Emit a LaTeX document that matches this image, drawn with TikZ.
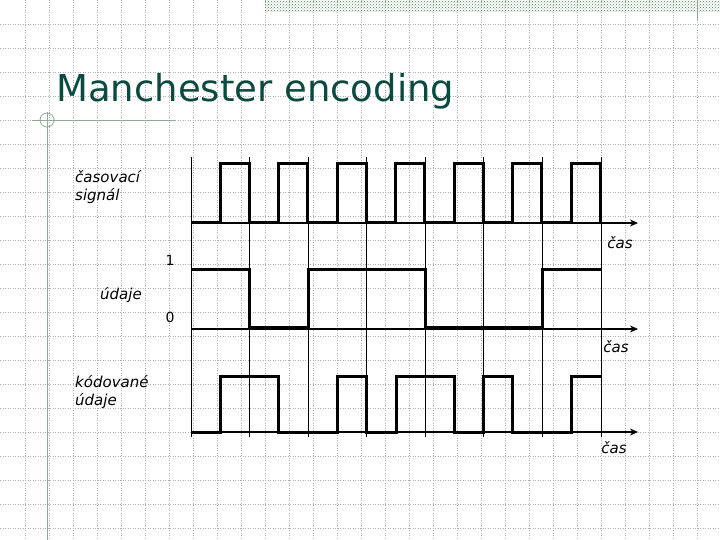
\documentclass[tikz,border=0pt]{standalone}
\usepackage{fontspec}
\setmainfont{DejaVu Sans}
\usetikzlibrary{arrows.meta,patterns}
\definecolor{titlec}{HTML}{0B4A40}
\definecolor{deco}{HTML}{8FA89A}
\definecolor{gridc}{HTML}{B0B0B0}
\tikzset{sig/.style={line width=3pt,line join=miter},
  thin/.style={line width=0.8pt},
  axis/.style={line width=1.3pt,-{Stealth[length=8pt,width=7pt]}},
  lab/.style={font=\itshape\fontsize{15}{18}\selectfont,align=left,inner sep=0pt}}
\begin{document}
\begin{tikzpicture}[x=1pt,y=-1pt]
\useasboundingbox (0,0) rectangle (720,540);
\fill[white] (0,0) rectangle (720,540);
\foreach \g in {1,...,29} \draw[gridc,dotted,line width=0.5pt] (\g*24+1,0) -- (\g*24+1,540);
\foreach \g in {1,...,22} \draw[gridc,dotted,line width=0.5pt] (0,\g*24) -- (720,\g*24);
\fill[pattern=crosshatch dots,pattern color=deco!60!black!80!green] (265,0) rectangle (720,12);
\draw[deco] (697,0) -- (697,20);
\draw[deco,line width=0.8pt] (32,120) -- (175,120);
\draw[deco,line width=0.8pt] (47,112) -- (47,540);
\draw[deco,line width=0.8pt] (47,120) circle (7);
\node[anchor=base west,text=titlec,font=\fontsize{37}{42}\selectfont,inner sep=0pt] (title) at (56,102) {Manchester encoding};
% vertical guides
\foreach \i in {0,...,7} \draw[thin] (191+\i*58.57,157) -- (191+\i*58.57,437);
% axes
\coordinate (a1s) at (191,223); \coordinate (a1e) at (638,223);
\coordinate (a2s) at (191,329); \coordinate (a2e) at (638,329);
\coordinate (a3s) at (191,432); \coordinate (a3e) at (638,432);
\draw[axis] (a1s) -- (a1e);
\draw[axis] (a2s) -- (a2e);
\draw[axis] (a3s) -- (a3e);
% clock
\draw[sig] (191,223) \foreach \i in {0,...,6} { -- (220+\i*58.57,223) -- (220+\i*58.57,164) -- (249+\i*58.57,164) -- (249+\i*58.57,223) } -- (249+6*58.57,223);
% data
\draw[sig] (191,269) -- (249,269) -- (249,327) -- (308,327) -- (308,269) -- (425,269) -- (425,327) -- (542,327) -- (542,269) -- (601,269);
% encoded
\draw[sig] (191,432) -- (220,432) -- (220,376) -- (278,376) -- (278,432) -- (337,432) -- (337,376) -- (366,376) -- (366,432) -- (396,432) -- (396,376) -- (454,376) -- (454,432) -- (483,432) -- (483,376) -- (512,376) -- (512,432) -- (571,432) -- (571,376) -- (601,376);
% labels
\node[lab,anchor=north west] (l1) at (75,170) {časovací\\signál};
\node[lab,anchor=base] (c1) at (620,248) {čas};
\node[lab,anchor=base] (c2) at (616,352) {čas};
\node[lab,anchor=base] (c3) at (614,453) {čas};
\node[lab,font=\fontsize{14}{16}\selectfont,anchor=base] (one) at (170,265) {1};
\node[lab,anchor=base] (ud) at (121,299) {údaje};
\node[lab,font=\fontsize{14}{16}\selectfont,anchor=base] (zero) at (170,322) {0};
\node[lab,anchor=north west] (l3) at (75,375) {kódované\\údaje};
\end{tikzpicture}
\end{document}
